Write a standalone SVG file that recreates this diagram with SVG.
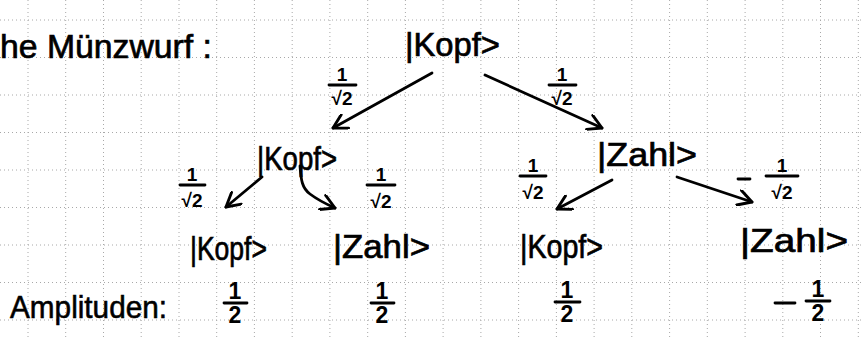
<svg xmlns="http://www.w3.org/2000/svg" width="864" height="338" viewBox="0 0 864 338">
<style>
.grid{stroke:#a8a8a8;stroke-width:1;stroke-dasharray:1 3;fill:none}
.t{font-family:"Liberation Sans","DejaVu Sans",sans-serif;fill:#000}
.ket{font-size:33px;stroke:#000;stroke-width:0.7}
.fr{font-size:19px;text-anchor:middle;font-weight:bold}
.h{font-size:23px;text-anchor:middle;font-weight:bold}
.bar{stroke:#000;stroke-width:2.8;stroke-linecap:round}
.arr{stroke:#000;stroke-width:2.8;fill:none;stroke-linecap:round;marker-end:url(#head)}
</style>
<defs>
<marker id="head" viewBox="0 0 10 10" refX="9" refY="5" markerWidth="17" markerHeight="17" markerUnits="userSpaceOnUse" orient="auto">
<path d="M1,0.5 L9,5 L1,9.5" fill="none" stroke="#000" stroke-width="1.7" stroke-linecap="round" stroke-linejoin="round"/>
</marker>
</defs>
<rect width="864" height="338" fill="#fff"/>
<path class="grid" d="M28,0V338M65.7,0V338M103.5,0V338M141.2,0V338M179,0V338M216.7,0V338M254.4,0V338M292.2,0V338M329.9,0V338M367.7,0V338M405.4,0V338M443.1,0V338M480.9,0V338M518.6,0V338M556.4,0V338M594.1,0V338M631.8,0V338M669.6,0V338M707.3,0V338M745.1,0V338M782.8,0V338M820.5,0V338M858.3,0V338M0,20H864M0,57.5H864M0,95H864M0,132.5H864M0,170H864M0,207.5H864M0,245H864M0,282.5H864M0,320H864"/>
<g id="title"><text class="t" x="0" y="58" font-size="34" stroke="#000" stroke-width="0.7" textLength="212" lengthAdjust="spacingAndGlyphs">he Münzwurf :</text></g>
<g id="root"><text class="t ket" x="405" y="56" textLength="95" lengthAdjust="spacingAndGlyphs">|Kopf&gt;</text></g>
<g id="k1"><text class="t ket" x="257" y="170" textLength="80" lengthAdjust="spacingAndGlyphs">|Kopf&gt;</text></g>
<g id="z1"><text class="t ket" x="597" y="166" textLength="100" lengthAdjust="spacingAndGlyphs">|Zahl&gt;</text></g>
<g id="kk"><text class="t ket" x="190" y="260" textLength="77" lengthAdjust="spacingAndGlyphs">|Kopf&gt;</text></g>
<g id="kz"><text class="t ket" x="333" y="258" textLength="97" lengthAdjust="spacingAndGlyphs">|Zahl&gt;</text></g>
<g id="zk"><text class="t ket" x="520" y="258" textLength="83" lengthAdjust="spacingAndGlyphs">|Kopf&gt;</text></g>
<g id="zz"><text class="t ket" x="740" y="252" textLength="108" lengthAdjust="spacingAndGlyphs">|Zahl&gt;</text></g>
<g id="amp">
<text class="t" x="10" y="318" font-size="32" stroke="#000" stroke-width="0.6" textLength="157" lengthAdjust="spacingAndGlyphs">Amplituden:</text>
<text class="t h" x="235" y="299">1</text><line class="bar" x1="224" y1="303" x2="247" y2="303"/><text class="t h" x="235" y="323">2</text>
<text class="t h" x="382" y="299">1</text><line class="bar" x1="371" y1="303" x2="394" y2="303"/><text class="t h" x="382" y="323">2</text>
<text class="t h" x="567" y="298">1</text><line class="bar" x1="555" y1="302" x2="580" y2="302"/><text class="t h" x="567" y="322">2</text>
<line class="bar" x1="775" y1="303" x2="795" y2="303"/>
<text class="t h" x="818" y="297">1</text><line class="bar" x1="806" y1="301" x2="830" y2="301"/><text class="t h" x="818" y="321">2</text>
</g>
<g id="connectors">
<line class="arr" x1="432" y1="73" x2="333" y2="128"/>
<line class="arr" x1="485" y1="75" x2="602" y2="128"/>
<line class="arr" x1="262" y1="177" x2="226" y2="207"/>
<path class="arr" d="M300,166 C301,180 302,188 310,194 C318,200 326,204 335,208"/>
<line class="arr" x1="612" y1="180" x2="557" y2="209"/>
<line class="arr" x1="677" y1="177" x2="752" y2="202"/>
</g>
<g id="labels">
<text class="t fr" x="342" y="81">1</text><line class="bar" x1="329" y1="85" x2="356" y2="85"/><text class="t fr" x="342" y="105">√2</text>
<text class="t fr" x="562" y="81">1</text><line class="bar" x1="549" y1="85" x2="576" y2="85"/><text class="t fr" x="562" y="105">√2</text>
<text class="t fr" x="192" y="181">1</text><line class="bar" x1="180" y1="185" x2="205" y2="185"/><text class="t fr" x="192" y="207">√2</text>
<text class="t fr" x="381" y="181">1</text><line class="bar" x1="367" y1="185" x2="395" y2="185"/><text class="t fr" x="381" y="208">√2</text>
<text class="t fr" x="533" y="172">1</text><line class="bar" x1="520" y1="176" x2="546" y2="176"/><text class="t fr" x="533" y="199">√2</text>
<line class="bar" x1="738" y1="179" x2="750" y2="179"/>
<text class="t fr" x="782" y="172">1</text><line class="bar" x1="766" y1="176" x2="798" y2="176"/><text class="t fr" x="782" y="199">√2</text>
</g>
</svg>
